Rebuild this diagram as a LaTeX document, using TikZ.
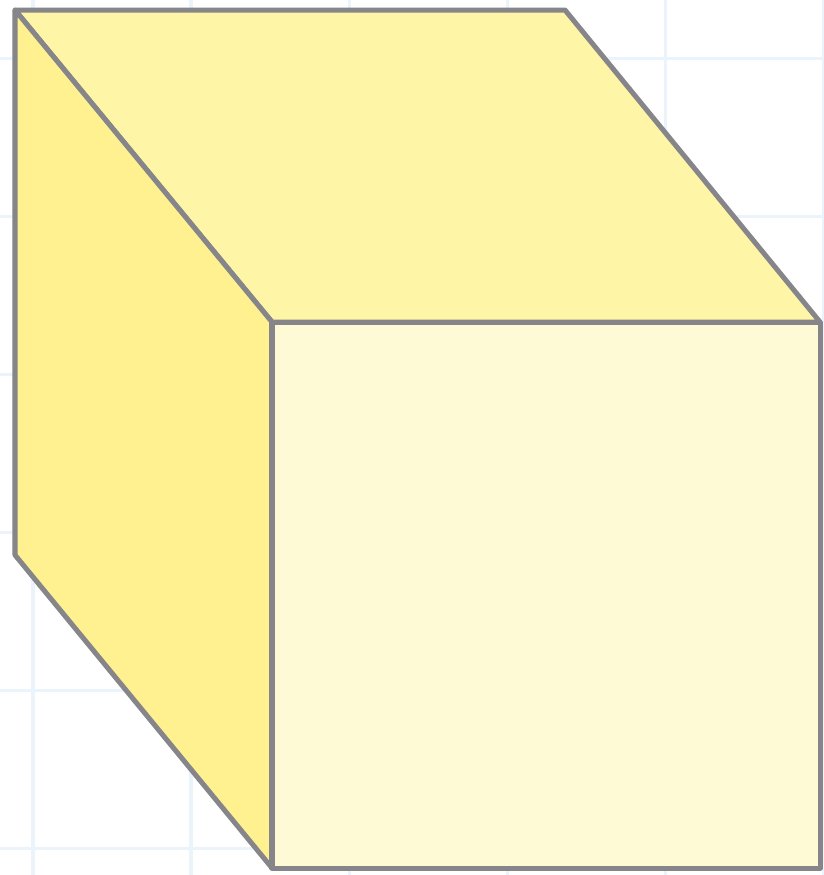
\documentclass[tikz,border=0pt]{standalone}
\usepackage{tikz}
\usetikzlibrary{calc}
\usepackage{xcolor}
\definecolor{gridblue}{HTML}{EBF4FA}
\definecolor{edgegray}{HTML}{85858A}
\definecolor{topyellow}{HTML}{FFF5A6}
\definecolor{leftyellow}{HTML}{FFF190}
\definecolor{frontyellow}{HTML}{FFFAD6}
\tikzset{
  gridline/.style  = {draw=gridblue, line width=0.03cm},
  face/.style      = {draw=edgegray, line width=0.05cm, line join=round},
  topface/.style   = {face, fill=topyellow},
  leftface/.style  = {face, fill=leftyellow},
  frontface/.style = {face, fill=frontyellow},
}
\begin{document}
\begin{tikzpicture}[x=0.01cm, y=-0.01cm]

%% ── Canvas ────────────────────────────────────────────────
\useasboundingbox (0,0) rectangle (824,875);
\fill[white] (0,0) rectangle (824,875);

%% ── Background grid ───────────────────────────────────────
\foreach \gx in {33,191,349,507,665,823}
  \draw[gridline] (\gx,0) -- (\gx,875);
\foreach \gy in {58,216,374,532,690,848}
  \draw[gridline] (0,\gy) -- (824,\gy);

%% ── Cube corners ──────────────────────────────────────────
\coordinate (backTL)  at (15,10);
\coordinate (backTR)  at (565,10);
\coordinate (backBL)  at (15,555);
\coordinate (frontTL) at (272,322);
\coordinate (frontTR) at (820,322);
\coordinate (frontBL) at (272,868);
\coordinate (frontBR) at (820,868);

%% ── Faces ─────────────────────────────────────────────────
\draw[topface]   (backTL) -- (backTR) -- (frontTR) -- (frontTL) -- cycle;
\draw[leftface]  (backTL) -- (frontTL) -- (frontBL) -- (backBL) -- cycle;
\draw[frontface] (frontTL) -- (frontTR) -- (frontBR) -- (frontBL) -- cycle;

\end{tikzpicture}
\end{document}
